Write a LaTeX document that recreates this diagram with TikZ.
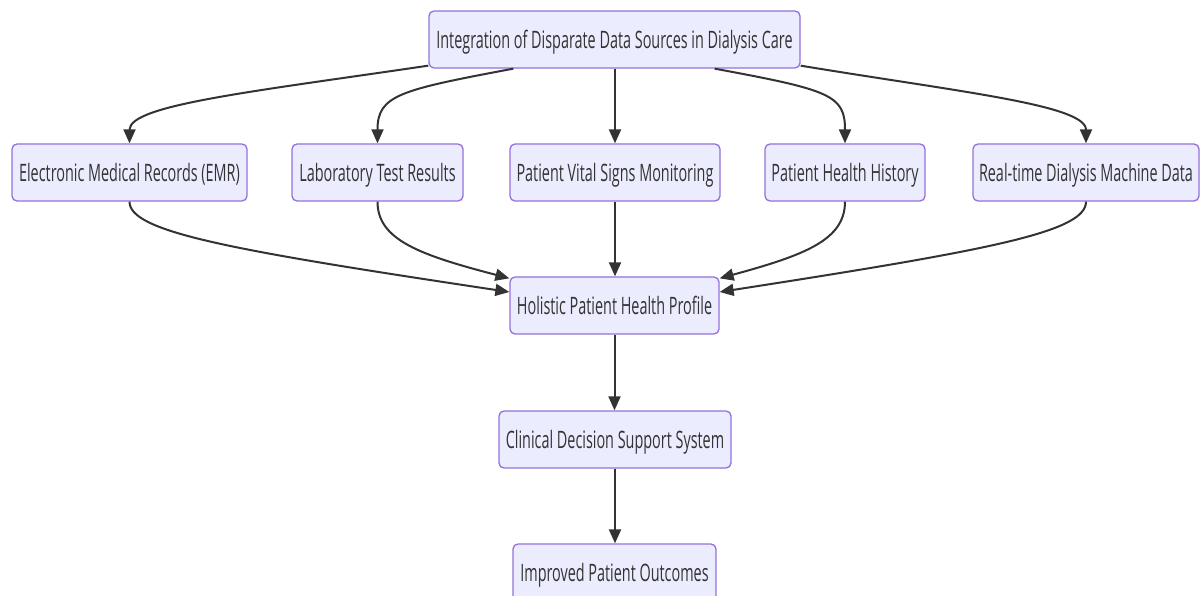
\documentclass[tikz,border=0pt]{standalone}
\usepackage{fontspec}
\setmainfont[FakeStretch=0.60]{Open Sans}
\usetikzlibrary{arrows.meta}
\definecolor{boxfill}{HTML}{ECECFF}
\definecolor{boxline}{HTML}{9370DB}
\definecolor{ink}{HTML}{333333}
\tikzset{
  box/.style={draw=boxline, fill=boxfill, line width=1.3pt, rounded corners=5pt,
    minimum height=57pt, inner sep=0pt, text height=24pt, text depth=5.5pt,
    text=ink, font=\fontsize{24pt}{28pt}\selectfont},
  conn/.style={draw=ink, line width=2pt, -{Triangle[length=14pt,width=12pt]}}
}
\begin{document}
\begin{tikzpicture}[x=1pt,y=-1pt]
\useasboundingbox (0,0) rectangle (1200,596);
\node[box, minimum width=371pt] (top) at (614.5,39.5) {Integration of Disparate Data Sources in Dialysis Care};
\node[box, minimum width=235pt] (emr) at (129.5,172.5) {Electronic Medical Records (EMR)};
\node[box, minimum width=171pt] (lab) at (377.5,172.5) {Laboratory Test Results};
\node[box, minimum width=210pt] (vital) at (615,172.5) {Patient Vital Signs Monitoring};
\node[box, minimum width=160pt] (hist) at (845,172.5) {Patient Health History};
\node[box, minimum width=226pt] (real) at (1086,172.5) {Real-time Dialysis Machine Data};
\node[box, minimum width=209pt] (holi) at (614.5,305.5) {Holistic Patient Health Profile};
\node[box, minimum width=232pt] (cds) at (615,439.5) {Clinical Decision Support System};
\node[box, minimum width=203pt] (imp) at (614.5,572.5) {Improved Patient Outcomes};

% top to sources
\draw[conn] ([yshift=3pt]top.south west) .. controls (250,92) and (129.5,105) .. (emr.north);
\draw[conn] ([xshift=85pt]top.south west) .. controls (400,90) and (377.5,95) .. (lab.north);
\draw[conn] (top.south -| vital.north) -- (vital.north);
\draw[conn] ([xshift=-86pt]top.south east) .. controls (830,90) and (845,95) .. (hist.north);
\draw[conn] ([yshift=3pt]top.south east) .. controls (960,92) and (1086,105) .. (real.north);

% sources to holistic
\draw[conn] (emr.south) .. controls (129.5,232) and (230,250) .. ([yshift=13.5pt]holi.west);
\draw[conn] (lab.south) .. controls (377.5,240) and (420,255) .. ([yshift=-2pt]holi.north west);
\draw[conn] (vital.south) -- (vital.south |- holi.north);
\draw[conn] (hist.south) .. controls (845,240) and (805,255) .. ([yshift=-2pt]holi.north east);
\draw[conn] (real.south) .. controls (1086,232) and (990,250) .. ([yshift=13.5pt]holi.east);

% chain
\draw[conn] (holi.south) -- (holi.south |- cds.north);
\draw[conn] (cds.south) -- (cds.south |- imp.north);
\end{tikzpicture}
\end{document}
